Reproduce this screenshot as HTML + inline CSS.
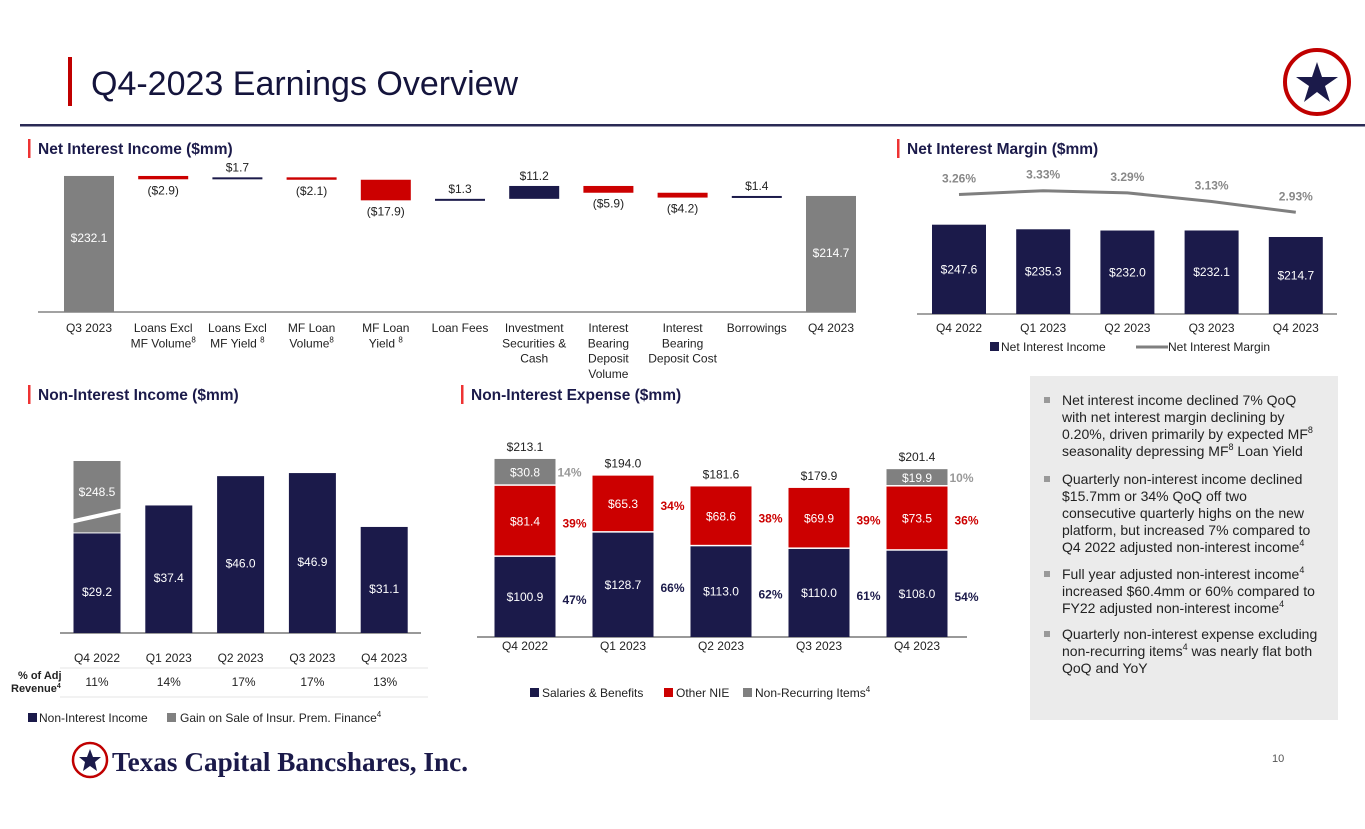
<!DOCTYPE html>
<html><head><meta charset="utf-8"><style>
body{margin:0;background:#fff;}
svg{display:block;font-family:"Liberation Sans",Arial,sans-serif;}
</style></head><body>
<svg id="s" width="1365" height="829" viewBox="0 0 1365 829" xmlns="http://www.w3.org/2000/svg">
<rect width="1365" height="829" fill="#fff"/>
<rect x="68" y="57" width="4" height="49" fill="#c00000"/>
<text x="91" y="95" font-size="34" fill="#14143c">Q4-2023 Earnings Overview</text>
<rect x="20" y="124" width="1345" height="2.5" fill="#2a2a55"/>
<g>
<circle cx="1317" cy="82" r="32" fill="#fff" stroke="#c00000" stroke-width="4"/>
<polygon points="1317,62 1322,77 1338,77 1325,86 1330,102 1317,92 1304,102 1309,86 1296,77 1312,77" fill="#1b1a4a"/>
</g>
<rect x="28" y="139" width="2.5" height="19" fill="#e33"/>
<text x="38" y="154" font-size="15.5" font-weight="bold" fill="#1b1a4a">Net Interest Income ($mm)</text>
<rect x="897" y="139" width="2.5" height="19" fill="#e33"/>
<text x="907" y="154" font-size="15.5" font-weight="bold" fill="#1b1a4a">Net Interest Margin ($mm)</text>
<rect x="28" y="385" width="2.5" height="19" fill="#e33"/>
<text x="38" y="400" font-size="15.5" font-weight="bold" fill="#1b1a4a">Non-Interest Income ($mm)</text>
<rect x="461" y="385" width="2.5" height="19" fill="#e33"/>
<text x="471" y="400" font-size="15.5" font-weight="bold" fill="#1b1a4a">Non-Interest Expense ($mm)</text>

<g id="wf"></g>
<g id="nim"></g>
<g id="noi"></g>
<g id="nie"></g>

<g>
<rect x="1030" y="376" width="308" height="344" fill="#ebebeb"/>
<g font-size="14" fill="#222">
<rect x="1044" y="397" width="6" height="6" fill="#999"/>
<text x="1062" y="405">Net interest income declined 7% QoQ</text>
<text x="1062" y="422">with net interest margin declining by</text>
<text x="1062" y="439">0.20%, driven primarily by expected MF<tspan font-size="9" dy="-6">8</tspan></text>
<text x="1062" y="456">seasonality depressing MF<tspan font-size="9" dy="-6">8</tspan><tspan dy="6"> Loan Yield</tspan></text>
<rect x="1044" y="476" width="6" height="6" fill="#999"/>
<text x="1062" y="484">Quarterly non-interest income declined</text>
<text x="1062" y="501">$15.7mm or 34% QoQ off two</text>
<text x="1062" y="518">consecutive quarterly highs on the new</text>
<text x="1062" y="535">platform, but increased 7% compared to</text>
<text x="1062" y="552">Q4 2022 adjusted non-interest income<tspan font-size="9" dy="-6">4</tspan></text>
<rect x="1044" y="571" width="6" height="6" fill="#999"/>
<text x="1062" y="579">Full year adjusted non-interest income<tspan font-size="9" dy="-6">4</tspan></text>
<text x="1062" y="596">increased $60.4mm or 60% compared to</text>
<text x="1062" y="613">FY22 adjusted non-interest income<tspan font-size="9" dy="-6">4</tspan></text>
<rect x="1044" y="631" width="6" height="6" fill="#999"/>
<text x="1062" y="639">Quarterly non-interest expense excluding</text>
<text x="1062" y="656">non-recurring items<tspan font-size="9" dy="-6">4</tspan><tspan dy="6"> was nearly flat both</tspan></text>
<text x="1062" y="673">QoQ and YoY</text>
</g>
</g>

<g>
<circle cx="90" cy="760" r="17" fill="#fff" stroke="#c00000" stroke-width="2.5"/>
<polygon points="90,749 93,757 101,757 95,762 97,771 90,766 83,771 85,762 79,757 87,757" fill="#1b1a4a"/>
<text x="112" y="771" font-family="Liberation Serif,serif" font-size="27" font-weight="bold" fill="#1b1a4a" textLength="356" lengthAdjust="spacingAndGlyphs">Texas Capital Bancshares, Inc.</text>
</g>
<text x="1272" y="762" font-size="11" fill="#555">10</text>
</svg>
<script>
const NS="http://www.w3.org/2000/svg";
function el(p,t,a,txt){const e=document.createElementNS(NS,t);for(const k in a)e.setAttribute(k,a[k]);if(txt!=null)e.textContent=txt;p.appendChild(e);return e;}
const NAVY="#1b1a4a",RED="#cc0000",GRAY="#808080";

// ---- Waterfall data ----
const wfCats=[["Q3 2023"],["Loans Excl","MF Volume^8"],["Loans Excl","MF Yield ^8"],["MF Loan","Volume^8"],["MF Loan","Yield ^8"],["Loan Fees"],["Investment","Securities &","Cash"],["Interest","Bearing","Deposit","Volume"],["Interest","Bearing","Deposit Cost"],["Borrowings"],["Q4 2023"]];
const wfStart=232.1;
const wfDeltas=[-2.9,1.7,-2.1,-17.9,1.3,11.2,-5.9,-4.2,1.4];
const wfEnd=214.7;
const wfLabels=["$232.1","($2.9)","$1.7","($2.1)","($17.9)","$1.3","$11.2","($5.9)","($4.2)","$1.4","$214.7"];
(function(){
const g=document.getElementById('wf');
const BASE=312;
const x=i=>89+i*74.2, y=v=>BASE-(v-113.8)*1.15, w=50;
el(g,'line',{x1:38,x2:856,y1:BASE,y2:BASE,stroke:"#444","stroke-width":1});
let b=el(g,'rect',{x:x(0)-w/2,y:y(wfStart),width:w,height:BASE-y(wfStart),fill:GRAY});


el(g,'text',{x:x(0),y:y(wfStart)+(BASE-y(wfStart))/2-2,"text-anchor":"middle","font-size":12,fill:"#fff"},wfLabels[0]);
let cur=wfStart;
wfDeltas.forEach((d,i)=>{
 const nx=cur+d; const top=y(Math.max(cur,nx)), bot=y(Math.min(cur,nx));
 const h=Math.max(bot-top,2);
 const r=el(g,'rect',{x:x(i+1)-w/2,y:top,width:w,height:h,fill:d<0?RED:NAVY});
 
 
 if(d<0) el(g,'text',{x:x(i+1),y:top+h+15,"text-anchor":"middle","font-size":12,fill:"#222"},wfLabels[i+1]);
 else el(g,'text',{x:x(i+1),y:top-6,"text-anchor":"middle","font-size":12,fill:"#222"},wfLabels[i+1]);
 cur=nx;
});
const e=el(g,'rect',{x:x(10)-w/2,y:y(wfEnd),width:w,height:BASE-y(wfEnd),fill:GRAY});


el(g,'text',{x:x(10),y:y(wfEnd)+(BASE-y(wfEnd))/2+3,"text-anchor":"middle","font-size":12,fill:"#fff"},wfLabels[10]);
wfCats.forEach((lines,i)=>{
 const tx=el(g,'text',{x:x(i),"text-anchor":"middle","font-size":12,fill:"#222"});
 
 
 lines.forEach((ln,j)=>{
  const parts=ln.split('^');
  el(tx,'tspan',{x:x(i),y:332+j*15.3},parts[0]);
  if(parts[1]){el(tx,'tspan',{"font-size":8,dy:-5},parts[1]);}
 });
});
})();

// ---- NIM chart ----
const nimCats=["Q4 2022","Q1 2023","Q2 2023","Q3 2023","Q4 2023"];
const nimIncome=[247.6,235.3,232.0,232.1,214.7];
const nimMargin=[3.26,3.33,3.29,3.13,2.93];
(function(){
const g=document.getElementById('nim');
const x=i=>959+i*84.2, y=v=>314-(v-8.8)*0.374, ym=v=>190.7+(3.33-v)*54;
el(g,'line',{x1:917,x2:1337,y1:314,y2:314,stroke:"#444"});
nimIncome.forEach((v,i)=>{
 const r=el(g,'rect',{x:x(i)-27,y:y(v),width:54,height:314-y(v),fill:NAVY});
 
 
 el(g,'text',{x:x(i),y:(y(v)+314)/2-1+5,"text-anchor":"middle","font-size":12,fill:"#fff"},"$"+v.toFixed(1));
 el(g,'text',{x:x(i),y:332,"text-anchor":"middle","font-size":12,fill:"#222"},nimCats[i]);
});
let d="";nimMargin.forEach((v,i)=>{d+=(i?"L":"M")+x(i)+","+ym(v);});
const p=el(g,'path',{d:d,stroke:"#7f7f7f","stroke-width":3,fill:"none"});


nimMargin.forEach((v,i)=>{el(g,'text',{x:x(i),y:ym(v)-12,"text-anchor":"middle","font-size":12,"font-weight":"bold",fill:"#888"},v.toFixed(2)+"%");});
el(g,'rect',{x:990,y:342,width:9,height:9,fill:NAVY});
el(g,'text',{x:1001,y:351,"font-size":12,fill:"#222"},"Net Interest Income");
el(g,'line',{x1:1136,x2:1168,y1:347,y2:347,stroke:"#7f7f7f","stroke-width":3});
el(g,'text',{x:1168,y:351,"font-size":12,fill:"#222"},"Net Interest Margin");
})();

// ---- Non-interest income ----
const noiCats=["Q4 2022","Q1 2023","Q2 2023","Q3 2023","Q4 2023"];
const noiValues=[29.2,37.4,46.0,46.9,31.1];
const noiGain=["$248.5",null,null,null,null];
const noiPct=["11%","14%","17%","17%","13%"];
(function(){
const g=document.getElementById('noi');
const x=i=>97+i*71.8, y=v=>633-v*3.41;
el(g,'line',{x1:60,x2:421,y1:633,y2:633,stroke:"#333"});
noiValues.forEach((v,i)=>{
 const r=el(g,'rect',{x:x(i)-23.5,y:y(v),width:47,height:633-y(v),fill:NAVY});
 
 
 el(g,'text',{x:x(i),y:(y(v)+633)/2+13,"text-anchor":"middle","font-size":12,fill:"#fff"},"$"+v.toFixed(1));
 if(noiGain[i]){
  const gr=el(g,'rect',{x:x(i)-23.5,y:461,width:47,height:y(v)-461-1,fill:GRAY});
  
  
  el(g,'text',{x:x(i),y:496,"text-anchor":"middle","font-size":12,fill:"#fff"},noiGain[i]);
  el(g,'line',{x1:x(i)-27,y1:522,x2:x(i)+27,y2:510,stroke:"#fff","stroke-width":4});
 }
 el(g,'text',{x:x(i),y:662,"text-anchor":"middle","font-size":12,fill:"#222"},noiCats[i]);
 el(g,'text',{x:x(i)+(i==2?3:i==4?1:0),y:686,"text-anchor":"middle","font-size":12,fill:"#222"},noiPct[i]);
});
el(g,'line',{x1:60,x2:428,y1:668,y2:668,stroke:"#e6e6e6"});
el(g,'line',{x1:60,x2:428,y1:697,y2:697,stroke:"#e6e6e6"});
el(g,'text',{x:18,y:679,"font-size":11,"font-weight":"bold",fill:"#222"},"% of Adj");
const rv=el(g,'text',{x:11,y:692,"font-size":11,"font-weight":"bold",fill:"#222"},"Revenue");
el(rv,'tspan',{"font-size":7,dy:-4},"4");
el(g,'rect',{x:28,y:713,width:9,height:9,fill:NAVY});
el(g,'text',{x:39,y:722,"font-size":12,fill:"#222"},"Non-Interest Income");
el(g,'rect',{x:167,y:713,width:9,height:9,fill:GRAY});
const lt=el(g,'text',{x:180,y:722,"font-size":12,fill:"#222"},"Gain on Sale of Insur. Prem. Finance");
el(lt,'tspan',{"font-size":8,dy:-5},"4");
})();

// ---- Non-interest expense ----
const nieCats=["Q4 2022","Q1 2023","Q2 2023","Q3 2023","Q4 2023"];
const nieSalaries=[100.9,128.7,113.0,110.0,108.0];
const nieOther=[81.4,65.3,68.6,69.9,73.5];
const nieNonRec=[30.8,0,0,0,19.9];
const nieTotals=["$213.1","$194.0","$181.6","$179.9","$201.4"];
const nieSalPct=["47%","66%","62%","61%","54%"];
const nieOthPct=["39%","34%","38%","39%","36%"];
const nieNrPct=["14%","","","","10%"];
(function(){
const g=document.getElementById('nie');
const x=i=>525+i*98, y=v=>636.6-(v-9.6)*0.873, bw=61;
el(g,'line',{x1:477,x2:967,y1:637,y2:637,stroke:"#333"});
nieCats.forEach((c,i)=>{
 const s=nieSalaries[i],o=nieOther[i],n=nieNonRec[i];
 const r1=el(g,'rect',{x:x(i)-bw/2,y:y(s),width:bw,height:637-y(s),fill:NAVY});
 
 
 const r2=el(g,'rect',{x:x(i)-bw/2,y:y(s+o),width:bw,height:y(s)-y(s+o)-1.5,fill:RED});
 
 
 let top=y(s+o);
 if(n>0){
  const r3=el(g,'rect',{x:x(i)-bw/2,y:y(s+o+n),width:bw,height:y(s+o)-y(s+o+n)-1.5,fill:GRAY});
  
  
  el(g,'text',{x:x(i),y:(y(s+o+n)+y(s+o))/2+4,"text-anchor":"middle","font-size":12,fill:"#fff"},"$"+n.toFixed(1));
  el(g,'text',{x:x(i)+bw/2+14,y:(y(s+o+n)+y(s+o))/2+4,"text-anchor":"middle","font-size":12,"font-weight":"bold",fill:"#999"},nieNrPct[i]);
  top=y(s+o+n);
 }
 el(g,'text',{x:x(i),y:(y(s)+637)/2+4,"text-anchor":"middle","font-size":12,fill:"#fff"},"$"+s.toFixed(1));
 el(g,'text',{x:x(i),y:(y(s+o)+y(s))/2+4,"text-anchor":"middle","font-size":12,fill:"#fff"},"$"+o.toFixed(1));
 el(g,'text',{x:x(i)+bw/2+19,y:(y(s)+637)/2+7,"text-anchor":"middle","font-size":12,"font-weight":"bold",fill:NAVY},nieSalPct[i]);
 el(g,'text',{x:x(i)+bw/2+19,y:(y(s+o)+y(s))/2+6,"text-anchor":"middle","font-size":12,"font-weight":"bold",fill:RED},nieOthPct[i]);
 el(g,'text',{x:x(i),y:top-8,"text-anchor":"middle","font-size":12,fill:"#222"},nieTotals[i]);
 el(g,'text',{x:x(i),y:650,"text-anchor":"middle","font-size":12,fill:"#222"},c);
});
el(g,'rect',{x:530,y:688,width:9,height:9,fill:NAVY});
el(g,'text',{x:542,y:697,"font-size":12,fill:"#222"},"Salaries & Benefits");
el(g,'rect',{x:664,y:688,width:9,height:9,fill:RED});
el(g,'text',{x:676,y:697,"font-size":12,fill:"#222"},"Other NIE");
el(g,'rect',{x:743,y:688,width:9,height:9,fill:GRAY});
const lt=el(g,'text',{x:755,y:697,"font-size":12,fill:"#222"},"Non-Recurring Items");
el(lt,'tspan',{"font-size":8,dy:-5},"4");
})();
</script>
</body></html>
